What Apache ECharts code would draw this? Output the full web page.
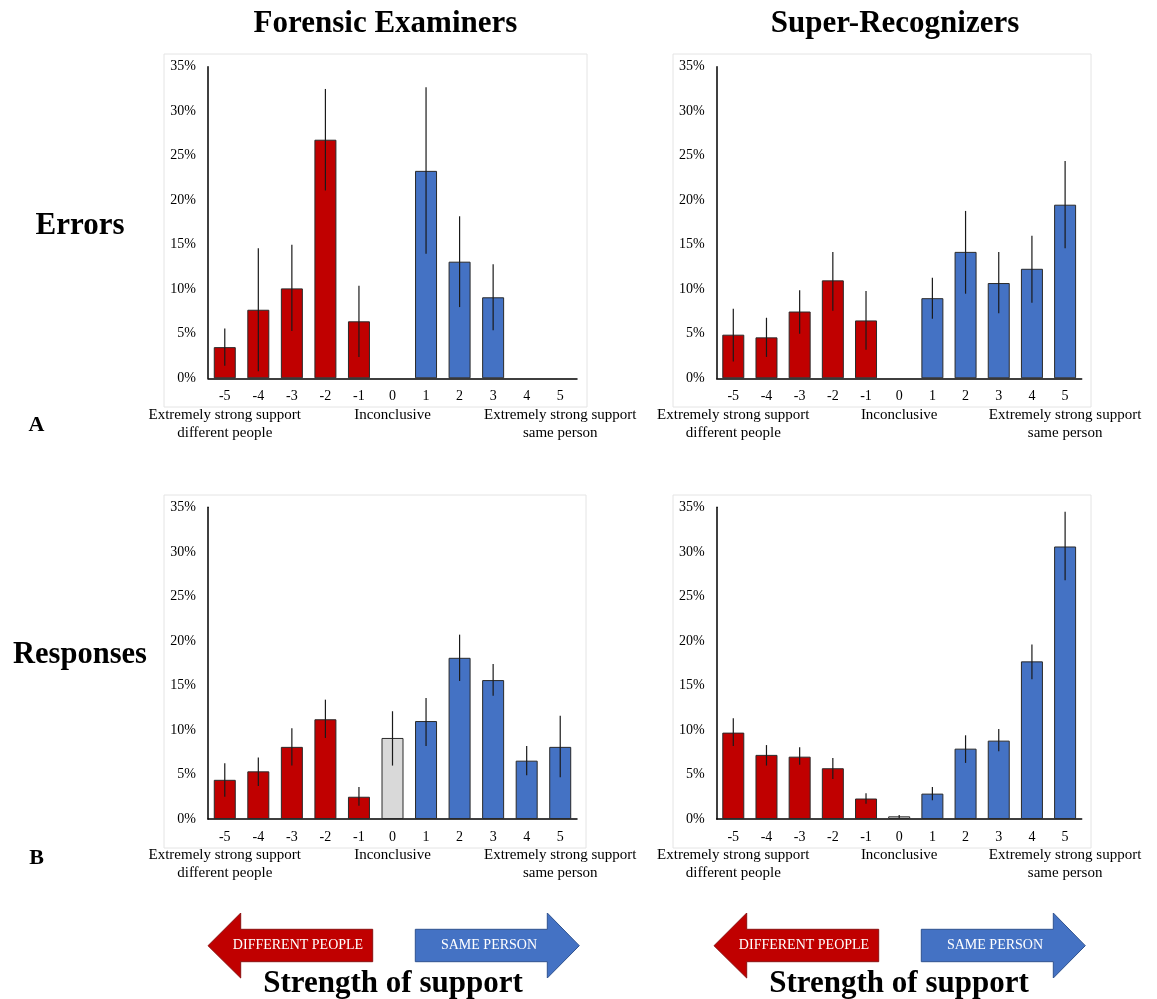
<!DOCTYPE html>
<html>
<head>
<meta charset="utf-8">
<script src="https://cdn.jsdelivr.net/npm/echarts@6/dist/echarts.min.js"></script>
<style>
html,body{margin:0;padding:0;background:#fff;}
#main{width:1157px;height:999px;}
</style>
</head>
<body>
<div id="main"></div>
<script>
const categories = ['-5','-4','-3','-2','-1','0','1','2','3','4','5'];
const yTicks = [0, 5, 10, 15, 20, 25, 30, 35];

const feErrors     = [3.5, 7.7, 10.1, 26.8, 6.4, 0, 23.3, 13.1, 9.1, 0, 0];
const feErrorsLow  = [1.4, 0.8, 5.3, 21.1, 2.4, null, 14.0, 8.0, 5.4, null, null];
const feErrorsHigh = [5.6, 14.6, 15.0, 32.5, 10.4, null, 32.7, 18.2, 12.8, null, null];

const srErrors     = [4.9, 4.6, 7.5, 11.0, 6.5, 0, 9.0, 14.2, 10.7, 12.3, 19.5];
const srErrorsLow  = [1.9, 2.4, 5.0, 7.6, 3.2, null, 6.7, 9.5, 7.3, 8.5, 14.6];
const srErrorsHigh = [7.8, 6.8, 9.9, 14.2, 9.8, null, 11.3, 18.8, 14.2, 16.0, 24.4];

const feResp     = [4.4, 5.35, 8.1, 11.2, 2.5, 9.1, 11.0, 18.1, 15.6, 6.55, 8.1];
const feRespLow  = [2.5, 3.7, 6.0, 9.1, 1.5, 6.0, 8.2, 15.5, 13.85, 4.9, 4.7];
const feRespHigh = [6.25, 6.9, 10.2, 13.4, 3.6, 12.1, 13.6, 20.7, 17.4, 8.2, 11.6];

const srResp     = [9.7, 7.2, 7.0, 5.7, 2.3, 0.3, 2.85, 7.9, 8.8, 17.7, 30.6];
const srRespLow  = [8.2, 6.0, 6.1, 4.5, 1.7, 0.1, 2.1, 6.3, 7.6, 15.7, 26.8];
const srRespHigh = [11.3, 8.3, 8.05, 6.85, 2.9, 0.45, 3.6, 9.4, 10.1, 19.6, 34.5];

const categoryNotes = {
  '-5': 'Extremely strong support\ndifferent people',
  '0': 'Inconclusive',
  '5': 'Extremely strong support\nsame person'
};
const colTitles = ['Forensic Examiners', 'Super-Recognizers'];
const rowTitles = ['Errors', 'Responses'];
const panelLetters = ['A', 'B'];
const arrowTexts = ['DIFFERENT PEOPLE', 'SAME PERSON'];
const bottomTitle = 'Strength of support';

const RED = '#C00000', BLUE = '#4472C4', GREY = '#D9D9D9';
const FONT = '"Liberation Serif", "Times New Roman", serif';

const panels = [
  {vals: feErrors, low: feErrorsLow, high: feErrorsHigh, grid: {left: 208, top: 66.7, width: 369, height: 311.6}},
  {vals: srErrors, low: srErrorsLow, high: srErrorsHigh, grid: {left: 716.7, top: 66.7, width: 365, height: 311.6}},
  {vals: feResp, low: feRespLow, high: feRespHigh, grid: {left: 208, top: 507.3, width: 369, height: 311.7}},
  {vals: srResp, low: srRespLow, high: srRespHigh, grid: {left: 716.7, top: 507.3, width: 365, height: 311.7}}
];

function barColor(i) { return i < 5 ? RED : (i === 5 ? GREY : BLUE); }

const grids = [], xAxes = [], yAxes = [], series = [];
panels.forEach((p, k) => {
  grids.push(Object.assign({containLabel: false}, p.grid));
  xAxes.push({
    type: 'category', gridIndex: k, data: categories,
    axisLine: {lineStyle: {color: '#000', width: 1.5}},
    axisTick: {show: false},
    axisLabel: {
      interval: 0, margin: 9, color: '#000', fontFamily: FONT, fontSize: 14, lineHeight: 18.5,
      formatter: v => categoryNotes[v] ? v + '\n{n|' + categoryNotes[v].split('\n').join('}\n{n|') + '}' : v,
      rich: {n: {fontFamily: FONT, fontSize: 15, lineHeight: 18, color: '#000'}}
    }
  });
  yAxes.push({
    type: 'value', gridIndex: k, min: yTicks[0], max: yTicks[yTicks.length - 1], interval: 5,
    axisLine: {show: true, lineStyle: {color: '#000', width: 1.5}},
    axisTick: {show: false}, splitLine: {show: false},
    axisLabel: {margin: 12, color: '#000', fontFamily: FONT, fontSize: 14, formatter: '{value}%'}
  });
  series.push({
    type: 'bar', xAxisIndex: k, yAxisIndex: k, barWidth: 22,
    data: p.vals.map((v, i) => ({value: v, itemStyle: {color: barColor(i), borderWidth: v > 0 ? 1 : 0}})),
    itemStyle: {borderColor: '#2a2a2a', borderWidth: 1},
    silent: true, animation: false
  });
  series.push({
    type: 'custom', xAxisIndex: k, yAxisIndex: k, silent: true, animation: false,
    data: p.low.map((lo, i) => [i, lo, p.high[i]]).filter(d => d[1] !== null),
    encode: {x: 0, y: [1, 2]},
    z: 5,
    renderItem: function (params, api) {
      const a = api.coord([api.value(0), api.value(1)]);
      const b = api.coord([api.value(0), api.value(2)]);
      return {type: 'line', shape: {x1: a[0], y1: a[1], x2: b[0], y2: b[1]},
              style: {stroke: '#1a1a1a', lineWidth: 1.2}};
    }
  });
});

const graphic = [];
[[164, 54, 423, 353], [673, 54, 418, 353], [164, 495, 422, 353], [673, 495, 418, 353]].forEach(r => {
  graphic.push({type: 'rect', shape: {x: r[0], y: r[1], width: r[2], height: r[3]},
    style: {fill: 'none', stroke: '#e4e4e4', lineWidth: 1}, z: -10, silent: true});
});
function txt(x, y, text, size, bold, color) {
  graphic.push({type: 'text', x: x, y: y, silent: true, z: 20,
    style: {text: text, fill: color || '#000', font: (bold ? 'bold ' : '') + size + 'px ' + FONT,
            align: 'center', verticalAlign: 'middle'}});
}
txt(385.5, 23.5, colTitles[0], 31, true);
txt(895, 23.5, colTitles[1], 31, true);
txt(80, 226, rowTitles[0], 31, true);
txt(80, 655, rowTitles[1], 30.5, true);
txt(36.5, 425, panelLetters[0], 22, true);
txt(36.5, 858, panelLetters[1], 22, true);

[0, 506].forEach(dx => {
  graphic.push({type: 'polygon', silent: true, z: 10,
    shape: {points: [[208 + dx, 945.7], [240.7 + dx, 913], [240.7 + dx, 929.3], [372.7 + dx, 929.3],
                     [372.7 + dx, 961.7], [240.7 + dx, 961.7], [240.7 + dx, 978]]},
    style: {fill: RED, stroke: '#8a1010', lineWidth: 1}});
  graphic.push({type: 'polygon', silent: true, z: 10,
    shape: {points: [[415.3 + dx, 929.3], [547.3 + dx, 929.3], [547.3 + dx, 913], [579.3 + dx, 945.7],
                     [547.3 + dx, 978], [547.3 + dx, 961.7], [415.3 + dx, 961.7]]},
    style: {fill: BLUE, stroke: '#2f528f', lineWidth: 1}});
  txt(298 + dx, 945.5, arrowTexts[0], 14, false, '#fff');
  txt(489 + dx, 945.5, arrowTexts[1], 14, false, '#fff');
  txt(393 + dx, 983.5, bottomTitle, 31, true);
});

const chart = echarts.init(document.getElementById('main'), null, {renderer: 'canvas'});
chart.setOption({
  animation: false,
  backgroundColor: '#fff',
  grid: grids, xAxis: xAxes, yAxis: yAxes, series: series, graphic: graphic
});
</script>
</body>
</html>
